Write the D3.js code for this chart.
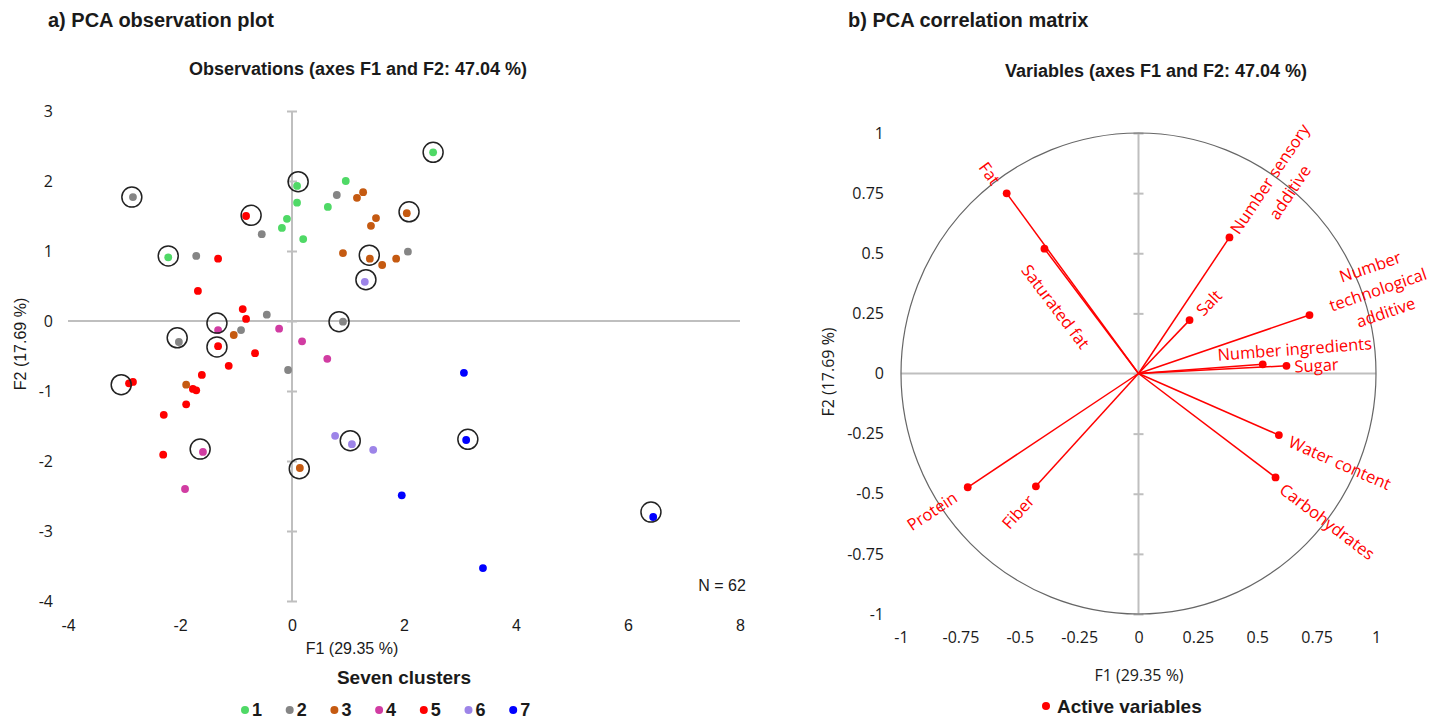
<!DOCTYPE html>
<html>
<head>
<meta charset="utf-8">
<script src="https://cdn.jsdelivr.net/npm/d3@7"></script>
<style>
  body { margin: 0; background: #fff; }
  text { fill: #1a1a1a; }
</style>
</head>
<body>
<div id="chart-area"></div>
<script>
// ---------- data: observations (F1, F2) per cluster ----------
var clusterNames = ['1', '2', '3', '4', '5', '6', '7'];

var cluster1 = [[2.52, 2.41], [0.09, 1.93], [0.96, 2.00], [0.09, 1.69], [0.64, 1.63],
    [-0.09, 1.46], [-0.18, 1.33], [0.20, 1.17], [-2.21, 0.91]];
var cluster2 = [[-2.84, 1.77], [-0.54, 1.24], [-1.71, 0.93], [0.80, 1.80], [2.07, 0.99],
    [-0.45, 0.09], [-0.91, -0.13], [-2.02, -0.30], [0.91, -0.01], [-0.07, -0.70]];
var cluster3 = [[1.27, 1.84], [1.16, 1.76], [1.50, 1.47], [1.41, 1.36], [2.05, 1.54],
    [0.91, 0.97], [1.39, 0.89], [1.61, 0.80], [1.86, 0.89], [-1.04, -0.20],
    [-1.89, -0.91], [0.14, -2.10]];
var cluster4 = [[-1.32, -0.13], [-0.23, -0.11], [0.18, -0.29], [0.63, -0.54],
    [-1.59, -1.87], [-1.91, -2.40]];
var cluster5 = [[-0.82, 1.50], [-1.32, 0.89], [-1.68, 0.43], [-0.88, 0.17], [-0.82, 0.03],
    [-1.32, -0.36], [-1.13, -0.64], [-1.61, -0.77], [-0.66, -0.46], [-2.91, -0.89],
    [-2.84, -0.87], [-1.77, -0.97], [-1.71, -0.99], [-1.89, -1.19], [-2.29, -1.34],
    [-2.30, -1.91]];
var cluster6 = [[1.30, 0.56], [0.77, -1.64], [1.07, -1.76], [1.45, -1.84]];
var cluster7 = [[3.07, -0.74], [3.11, -1.70], [1.96, -2.49], [6.45, -2.80], [3.41, -3.53]];

// circled (representative) observations
var circled = [[2.52, 2.41], [0.11, 1.99], [-2.86, 1.77], [-0.73, 1.51], [2.09, 1.56],
    [-2.21, 0.93], [1.38, 0.94], [1.32, 0.59], [-1.34, -0.03], [0.84, -0.01],
    [-2.05, -0.24], [-1.34, -0.37], [-3.05, -0.91], [-1.64, -1.83], [1.04, -1.71],
    [3.14, -1.69], [0.13, -2.11], [6.41, -2.73]];

// ---------- data: variables (correlations with F1, F2) ----------
var varNames = ['Fat', 'Saturated fat', 'Number sensory additive', 'Salt',
    'Number technological additive', 'Number ingredients', 'Sugar',
    'Water content', 'Carbohydrates', 'Protein', 'Fiber'];
var varF1 = [-0.555, -0.396, 0.383, 0.215, 0.72, 0.523, 0.623, 0.591, 0.577, -0.719, -0.432];
var varF2 = [0.749, 0.519, 0.566, 0.222, 0.243, 0.038, 0.032, -0.256, -0.432, -0.473, -0.469];

// ---------- tick labels ----------
var obsXTicks = [-4, -2, 0, 2, 4, 6, 8];
var obsYTicks = [-4, -3, -2, -1, 0, 1, 2, 3];
var corTicks = [-1, -0.75, -0.5, -0.25, 0, 0.25, 0.5, 0.75, 1];

// ---------- layout / styles ----------
var clusterColors = ['#4fd966', '#858585', '#c55a11', '#d13ca2', '#ff0000', '#9d84e8', '#0000ff'];
var axisColor = '#bfbfbf';
var labelFont = '"Open Sans", sans-serif';
var arialFont = '"Liberation Sans", Arial, sans-serif';

// label placement along / across each vector, line breaks
var labelLayout = {
    'Fat': { a: 26, p: 1, lines: ['Fat'] },
    'Saturated fat': { a: -53, p: 25, lines: ['Saturated fat'] },
    'Number sensory additive': { a: 71, p: 0, lines: ['Number sensory', 'additive'] },
    'Salt': { a: 26, p: 1, lines: ['Salt'] },
    'Number technological additive': { a: 73, p: -27, lines: ['Number', 'technological', 'additive'] },
    'Number ingredients': { a: 33, p: -14, lines: ['Number ingredients'] },
    'Sugar': { a: 30, p: 0, lines: ['Sugar'] },
    'Water content': { a: 67, p: 0, lines: ['Water content'] },
    'Carbohydrates': { a: 68, p: 3, lines: ['Carbohydrates'] },
    'Protein': { a: 43, p: -1, lines: ['Protein'] },
    'Fiber': { a: 31, p: 3, lines: ['Fiber'] }
};

var svg = d3.select('#chart-area')
    .append('svg')
    .attr('width', 1442)
    .attr('height', 721)
    .style('background', '#fff');

// ================= a) observations =================
var x = d3.scaleLinear().domain([-4, 8]).range([68, 740]);
var y = d3.scaleLinear().domain([-4, 3]).range([601, 111]);

var color = d3.scaleOrdinal().domain(clusterNames).range(clusterColors);

svg.append('text')
    .attr('x', 48).attr('y', 27)
    .attr('font-family', arialFont).attr('font-size', '20px').attr('font-weight', 'bold')
    .text('a) PCA observation plot');

svg.append('text')
    .attr('x', 358).attr('y', 75)
    .attr('text-anchor', 'middle')
    .attr('font-family', arialFont).attr('font-size', '18px').attr('font-weight', 'bold')
    .text('Observations (axes F1 and F2: 47.04 %)');

// crossing axes
svg.append('line')
    .attr('x1', x(-4)).attr('x2', x(8))
    .attr('y1', y(0)).attr('y2', y(0))
    .attr('stroke', axisColor).attr('stroke-width', 2);

var vAxis = svg.append('g')
    .attr('transform', 'translate(' + (x(0) - 5) + ',0)')
    .call(d3.axisRight(y).tickValues(obsYTicks).tickSize(10).tickFormat(''));
vAxis.select('.domain').remove();
vAxis.selectAll('line').attr('stroke', axisColor).attr('stroke-width', 2);
svg.append('line')
    .attr('x1', x(0)).attr('x2', x(0))
    .attr('y1', y(3)).attr('y2', y(-4))
    .attr('stroke', axisColor).attr('stroke-width', 2);

// tick labels
var yLab = svg.append('g')
    .attr('transform', 'translate(53,0)')
    .call(d3.axisLeft(y).tickValues(obsYTicks).tickSize(0).tickPadding(0).tickFormat(d => String(d)));
yLab.select('.domain').remove();
yLab.selectAll('text').attr('font-family', labelFont).attr('font-size', '16px').attr('fill', '#262626');

var xLab = svg.append('g')
    .attr('transform', 'translate(0,620)')
    .call(d3.axisBottom(x).tickValues(obsXTicks).tickSize(0).tickPadding(0).tickFormat(d => String(d)));
xLab.select('.domain').remove();
xLab.selectAll('text').attr('font-family', arialFont).attr('font-size', '16px').attr('fill', '#262626');

svg.append('text')
    .attr('x', 352).attr('y', 654)
    .attr('text-anchor', 'middle')
    .attr('font-family', arialFont).attr('font-size', '16px').attr('fill', '#262626')
    .text('F1 (29.35 %)');

svg.append('text')
    .attr('transform', 'translate(26,344) rotate(-90)')
    .attr('text-anchor', 'middle')
    .attr('font-family', arialFont).attr('font-size', '16px').attr('fill', '#262626')
    .text('F2 (17.69 %)');

svg.append('text')
    .attr('x', 722).attr('y', 591)
    .attr('text-anchor', 'middle')
    .attr('font-family', arialFont).attr('font-size', '16px')
    .text('N = 62');

// points
var clusters = [cluster1, cluster2, cluster3, cluster4, cluster5, cluster6, cluster7];
var obs = [];
clusters.forEach((c, i) => {
    c.forEach(d => obs.push({ f1: d[0], f2: d[1], cluster: clusterNames[i] }));
});

svg.append('g').selectAll('circle')
    .data(obs)
    .enter()
    .append('circle')
    .attr('cx', d => x(d.f1))
    .attr('cy', d => y(d.f2))
    .attr('r', 3.9)
    .attr('fill', d => color(d.cluster));

svg.append('g').selectAll('circle')
    .data(circled)
    .enter()
    .append('circle')
    .attr('cx', d => x(d[0]))
    .attr('cy', d => y(d[1]))
    .attr('r', 10)
    .attr('fill', 'none')
    .attr('stroke', '#222')
    .attr('stroke-width', 1.5);

// legend
svg.append('text')
    .attr('x', 404).attr('y', 684)
    .attr('text-anchor', 'middle')
    .attr('font-family', arialFont).attr('font-size', '19px').attr('font-weight', 'bold')
    .text('Seven clusters');

var leg = svg.append('g').selectAll('g')
    .data(clusterNames)
    .enter()
    .append('g')
    .attr('transform', (d, i) => 'translate(' + (245 + i * 44.7) + ',710)');
leg.append('circle').attr('r', 4).attr('fill', d => color(d));
leg.append('text')
    .attr('x', 7).attr('y', 6)
    .attr('font-family', arialFont).attr('font-size', '18px').attr('font-weight', 'bold')
    .text(d => d);

// ================= b) correlation circle =================
var cx = d3.scaleLinear().domain([-1, 1]).range([901, 1376]);
var cy = d3.scaleLinear().domain([-1, 1]).range([614, 133]);

svg.append('text')
    .attr('x', 848).attr('y', 27)
    .attr('font-family', arialFont).attr('font-size', '20px').attr('font-weight', 'bold')
    .text('b) PCA correlation matrix');

svg.append('text')
    .attr('x', 1156).attr('y', 77)
    .attr('text-anchor', 'middle')
    .attr('font-family', arialFont).attr('font-size', '18px').attr('font-weight', 'bold')
    .text('Variables (axes F1 and F2: 47.04 %)');

svg.append('line')
    .attr('x1', cx(-1)).attr('x2', cx(1))
    .attr('y1', cy(0)).attr('y2', cy(0))
    .attr('stroke', axisColor).attr('stroke-width', 2);

var cvAxis = svg.append('g')
    .attr('transform', 'translate(' + (cx(0) - 5) + ',0)')
    .call(d3.axisRight(cy).tickValues(corTicks).tickSize(10).tickFormat(''));
cvAxis.select('.domain').remove();
cvAxis.selectAll('line').attr('stroke', axisColor).attr('stroke-width', 2);
svg.append('line')
    .attr('x1', cx(0)).attr('x2', cx(0))
    .attr('y1', cy(1)).attr('y2', cy(-1))
    .attr('stroke', axisColor).attr('stroke-width', 2);

svg.append('ellipse')
    .attr('cx', cx(0)).attr('cy', cy(0))
    .attr('rx', cx(1) - cx(0)).attr('ry', cy(-1) - cy(0))
    .attr('fill', 'none')
    .attr('stroke', '#666')
    .attr('stroke-width', 1.2);

var cyLab = svg.append('g')
    .attr('transform', 'translate(884,0)')
    .call(d3.axisLeft(cy).tickValues(corTicks).tickSize(0).tickPadding(0).tickFormat(d => String(d)));
cyLab.select('.domain').remove();
cyLab.selectAll('text').attr('font-family', labelFont).attr('font-size', '16px').attr('fill', '#262626');

var cxLab = svg.append('g')
    .attr('transform', 'translate(0,632)')
    .call(d3.axisBottom(cx).tickValues(corTicks).tickSize(0).tickPadding(0).tickFormat(d => String(d)));
cxLab.select('.domain').remove();
cxLab.selectAll('text').attr('font-family', labelFont).attr('font-size', '16px').attr('fill', '#262626');

svg.append('text')
    .attr('x', 1139).attr('y', 681)
    .attr('text-anchor', 'middle')
    .attr('font-family', labelFont).attr('font-size', '16px').attr('fill', '#262626')
    .text('F1 (29.35 %)');

svg.append('text')
    .attr('transform', 'translate(834,372) rotate(-90)')
    .attr('text-anchor', 'middle')
    .attr('font-family', labelFont).attr('font-size', '16px').attr('fill', '#262626')
    .text('F2 (17.69 %)');

// vectors
var vars = varNames.map((n, i) => ({ name: n, f1: varF1[i], f2: varF2[i] }));

svg.append('g').selectAll('line')
    .data(vars)
    .enter()
    .append('line')
    .attr('x1', cx(0)).attr('y1', cy(0))
    .attr('x2', d => cx(d.f1)).attr('y2', d => cy(d.f2))
    .attr('stroke', '#ff0000')
    .attr('stroke-width', 1.5);

svg.append('g').selectAll('circle')
    .data(vars)
    .enter()
    .append('circle')
    .attr('cx', d => cx(d.f1)).attr('cy', d => cy(d.f2))
    .attr('r', 3.9)
    .attr('fill', '#ff0000');

// rotated labels
var labels = svg.append('g').selectAll('g')
    .data(vars)
    .enter()
    .append('g')
    .attr('transform', d => {
        var px = cx(d.f1), py = cy(d.f2);
        var th = Math.atan2(py - cy(0), px - cx(0));
        var rot = Math.cos(th) < 0 ? th + Math.PI : th;
        var L = labelLayout[d.name];
        var tx = px + L.a * Math.cos(th) - L.p * Math.sin(rot);
        var ty = py + L.a * Math.sin(th) + L.p * Math.cos(rot);
        return 'translate(' + tx + ',' + ty + ') rotate(' + (rot * 180 / Math.PI) + ')';
    });

labels.each(function (d) {
    var L = labelLayout[d.name];
    var t = d3.select(this).append('text')
        .attr('text-anchor', 'middle')
        .attr('dominant-baseline', 'central')
        .attr('font-family', labelFont)
        .attr('font-size', '16.5px')
        .style('fill', '#ff0000');
    L.lines.forEach((ln, i) => {
        t.append('tspan').attr('x', 0).attr('y', i * 24).text(ln);
    });
});

// legend
svg.append('circle')
    .attr('cx', 1046).attr('cy', 706).attr('r', 4)
    .attr('fill', '#ff0000');
svg.append('text')
    .attr('x', 1057).attr('y', 713)
    .attr('font-family', arialFont).attr('font-size', '19px').attr('font-weight', 'bold')
    .text('Active variables');
</script>
</body>
</html>
